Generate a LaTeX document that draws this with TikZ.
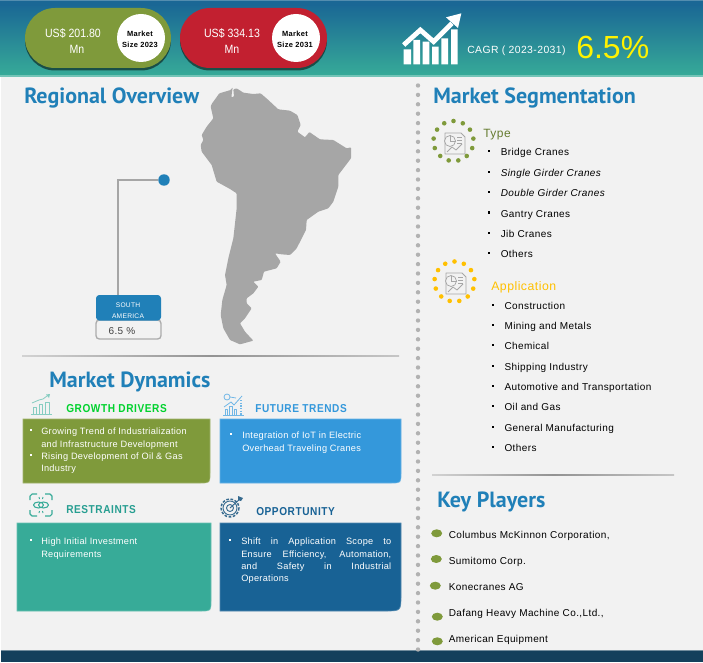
\documentclass[tikz,border=0pt]{standalone}
\usepackage{fontspec}
\setmainfont{Liberation Sans}
\newfontfamily\bodyf[LetterSpace=4]{Liberation Sans}
\newfontfamily\panf[LetterSpace=3]{Liberation Sans}
\newfontfamily\pillf[FakeStretch=.88]{Liberation Sans}
\newfontfamily\headf{PT Sans}
\newfontfamily\capf[LetterSpace=5,FakeStretch=.88]{Liberation Sans Bold}
\usetikzlibrary{calc}
\definecolor{bgc}{HTML}{F2F2F2}
\definecolor{bandtop}{HTML}{1A6795}
\definecolor{bandbot}{HTML}{37AB98}
\definecolor{oliveg}{HTML}{7F9A3B}
\definecolor{redp}{HTML}{C22030}
\definecolor{headb}{HTML}{2080B8}
\definecolor{mapg}{HTML}{A6A6A6}
\definecolor{skyb}{HTML}{3498DB}
\definecolor{deepb}{HTML}{186295}
\definecolor{footc}{HTML}{14405C}
\definecolor{amber}{HTML}{FFC000}
\tikzset{
  lbl/.style={inner sep=0pt,anchor=west,text depth=0pt,text height=5.4pt},
  ctr/.style={inner sep=0pt,anchor=center,text depth=0pt,text height=5.4pt,align=center},
  body/.style={lbl,font=\bodyf\fontsize{7.5}{9}\selectfont},
  blk/.style={body,text=black,yshift=-.7pt},
  wht/.style={lbl,font=\panf\fontsize{6.9}{9}\selectfont,text=white,yshift=-.4pt},
  head/.style={lbl,font=\headf\bfseries\fontsize{16.5}{18}\selectfont,text=headb},
  capt/.style={lbl,font=\capf\fontsize{8.6}{10}\selectfont,yshift=-.6pt},
  pillt/.style={ctr,font=\pillf\fontsize{9}{11}\selectfont,text=white},
  pillk/.style={ctr,font=\bodyf\bfseries\fontsize{5.6}{7}\selectfont,text=black},
  ico/.style={draw=#1,line width=.6pt,line join=round,fill=none},
}
\newcommand\sepbar[3]{\shade[left color=gray!35,right color=gray!45,middle color=gray!85] (#1,#3-.7) rectangle (#2,#3+.7);}
\newcommand\panelbox[6]{\path[fill=#6,draw=#6!75!white,line width=.5pt] (#1,#2) -- (#3,#2) -- (#3,#4-#5) .. controls (#3,#4) .. (#3-#5,#4) -- (#1,#4) -- cycle;}
\newcommand\docicon[1]{\begin{scope}[shift={#1},line width=.55pt,draw=gray!70,line join=round]
  \draw (-8,-8) -- (8,-8) -- (12,-4) -- (12,13) -- (-8,13) -- cycle;
  \draw[fill=bgc] (-3,0) circle (5.5);
  \draw (-3,0) -- (-3,-5.5) (-3,0) -- (2.5,0);
  \draw (4,-4) -- (9,-4) (4,-1) -- (9,-1) (4,2) -- (9,2);
  \draw (-6,11) -- (-1,6) -- (3,9) -- (9,3);
\end{scope}}
\begin{document}
\begin{tikzpicture}[x=.75pt,y=-.75pt]
\useasboundingbox (0,0) rectangle (703,663);
\fill[white] (0,0) rectangle (703,663);
\fill[bgc] (1,76) rectangle (703,651);
% top band
\shade[top color=bandtop,bottom color=bandbot] (0,4) rectangle (703,76);
\fill[bandtop] (0,0) rectangle (703,6);
\fill[bandtop!75!white] (0,0) rectangle (703,1);
\fill[bandbot!70!white] (0,75.5) rectangle (703,77);
% footer
\fill[footc] (1,651) rectangle (703,662);
\fill[footc!60!white] (1,650) rectangle (703,651);
% pills
\fill[black!70!bandbot,opacity=.75] (55,10.5) arc[start angle=-90,end angle=-270,radius=30] -- (141,70.5) arc[start angle=90,end angle=-90,radius=30] -- cycle;
\fill[oliveg] (55,8) arc[start angle=-90,end angle=-270,radius=30] -- (141,68) arc[start angle=90,end angle=-90,radius=30] -- cycle;
\node[circle,fill=white,inner sep=0pt,minimum size=36pt] (c1) at (141,38) {};
\node[pillt] (p1a) at (73,34) {US\$ 201.80};
\node[pillt] (p1b) at (77,50) {Mn};
\node[pillk] (k1a) at (140,33) {Market};
\node[pillk] (k1b) at (140,44) {Size 2023};
\fill[black!70!bandbot,opacity=.75] (210,10.5) arc[start angle=-90,end angle=-270,radius=30] -- (297,70.5) arc[start angle=90,end angle=-90,radius=30] -- cycle;
\fill[redp] (210,8) arc[start angle=-90,end angle=-270,radius=30] -- (297,68) arc[start angle=90,end angle=-90,radius=30] -- cycle;
\node[circle,fill=white,inner sep=0pt,minimum size=36pt] (c2) at (296,38) {};
\node[pillt] (p2a) at (232,34) {US\$ 334.13};
\node[pillt] (p2b) at (232,50) {Mn};
\node[pillk] (k2a) at (295,33) {Market};
\node[pillk] (k2b) at (295,44) {Size 2031};
% growth icon
\begin{scope}[shift={(352,0)},x=.25pt,y=-.25pt]
  \fill[white] (155,148) rectangle (177,193) (184,120) rectangle (204,193) (212,125) rectangle (232,193)
    (240,140) rectangle (260,193) (268,115) rectangle (288,193) (297,88) rectangle (317,193);
  \draw[white,line width=3.6pt,line join=miter] (155,135) -- (205,90) -- (245,125) -- (300,70);
  \fill[white] (328,40) -- (282,52) -- (318,84) -- cycle;
\end{scope}
\node[lbl,font=\bodyf\fontsize{7.8}{10}\selectfont,text=white] (cagr) at (467,50) {CAGR ( 2023-2031)};
\node[lbl,font=\fontsize{24}{28}\selectfont,text=yellow] (cagrv) at (576,55.4) {6.5\%};
% headings
\node[head] (hreg) at (24,100.4) {Regional Overview};
\node[head] (hseg) at (433,100.4) {Market Segmentation};
\node[head] (hdyn) at (49,383.4) {Market Dynamics};
\node[head] (hkey) at (437,503.4) {Key Players};
% map
\begin{scope}[shift={(90,85)},x=.25pt,y=-.25pt]
\fill[mapg,rounded corners=.6pt] (365,57) -- (388,25) -- (422,15) -- (428,7) -- (424,37) -- (432,35) -- (430,13) -- (440,10) -- (460,23) -- (490,27) -- (512,25) -- (535,45) -- (565,73) -- (600,77) -- (622,90) -- (632,120) -- (622,140) -- (645,157) -- (658,141) -- (690,163) -- (730,165) -- (770,190) -- (783,187) -- (783,220) -- (745,270) -- (745,305) -- (730,350) -- (715,370) -- (685,380) -- (650,405) -- (648,435) -- (620,490) -- (600,510) -- (575,508) -- (555,505) -- (572,530) -- (560,550) -- (522,560) -- (515,585) -- (490,590) -- (505,605) -- (490,625) -- (470,640) -- (470,655) -- (485,670) -- (465,700) -- (450,715) -- (465,740) -- (490,767) -- (450,778) -- (420,765) -- (400,730) -- (392,690) -- (397,645) -- (410,600) -- (405,570) -- (415,520) -- (430,460) -- (440,370) -- (440,325) -- (420,312) -- (380,290) -- (365,240) -- (335,200) -- (332,180) -- (340,165) -- (335,150) -- (350,125) -- (370,100) -- (362,65) -- cycle;
\end{scope}
% south america callout
\draw[gray!65,line width=1pt,rounded corners=2.5pt] (96,320) rectangle (161,339);
\path[fill=headb,rounded corners=2.5pt] (96,295) rectangle (161,320.5);
\node[circle,fill=headb,inner sep=0pt,minimum size=8.6pt] (sadot) at (164,180) {};
\coordinate (lead) at (118,295);
\draw[gray!70,line width=1pt] (sadot.west) -| (lead);
\node[ctr,font=\bodyf\fontsize{5}{7}\selectfont,text=white] (sa1) at (128,303.5) {SOUTH};
\node[ctr,font=\bodyf\fontsize{5}{7}\selectfont,text=white] (sa2) at (128,314.5) {AMERICA};
\node[ctr,font=\bodyf\fontsize{7.5}{9}\selectfont,text=black!75] (sa3) at (122,330.5) {6.5 \%};
% separators + dots
\sepbar{22}{399}{356}
\sepbar{432}{674}{475}
\draw[gray!60,line width=3.3pt,line cap=round,dash pattern=on 0pt off 7.05pt] (418,85.5) -- (418,652);
% dynamics panels
\panelbox{23}{419}{210}{483}{10}{oliveg}
\panelbox{220}{419}{401}{483}{10}{skyb}
\panelbox{17}{523}{211}{611}{10}{bandbot}
\panelbox{220}{523}{401}{611}{16}{deepb}
\node[capt,text=green!65!teal] (cg) at (66,408) {GROWTH DRIVERS};
\node[capt,text=skyb] (cf) at (255,408.5) {FUTURE TRENDS};
\node[capt,text=bandbot!70!teal] (cr) at (66,509) {RESTRAINTS};
\node[capt,text=deepb] (co) at (256,511) {OPPORTUNITY};
% panel texts
\foreach \x/\y in {31/430,31/455,231/434,31/540,230/540}
  \fill[white] (\x-1,\y-1) rectangle (\x+1,\y+1);
\node[wht] (g1) at (41,430) {Growing Trend of Industrialization};
\node[wht] (g2) at (41,443) {and Infrastructure Development};
\node[wht] (g3) at (41,455) {Rising Development of Oil \& Gas};
\node[wht] (g4) at (41,467) {Industry};
\node[wht] (f1) at (242,434.5) {Integration of IoT in Electric};
\node[wht] (f2) at (242,447.5) {Overhead Traveling Cranes};
\node[wht] (r1) at (41,540) {High Initial Investment};
\node[wht] (r2) at (41,553) {Requirements};
\node[wht] (o1) at (241,540) {\makebox[112.5pt][s]{Shift in Application Scope to}};
\node[wht] (o2) at (241,553) {\makebox[112.5pt][s]{Ensure Efficiency, Automation,}};
\node[wht] (o3) at (241,565) {\makebox[112.5pt][s]{and Safety in Industrial}};
\node[wht] (o4) at (241,577) {Operations};
% segmentation
\foreach \ang in {0,...,12}
  \fill[oliveg] ($(453.5,141)+(-90+\ang*27.7:20)$) circle (2.3);
\foreach \ang in {0,...,12}
  \fill[amber] ($(454.5,281.5)+(-90+\ang*27.7:20)$) circle (2.3);
\docicon{(453,141)}
\docicon{(454,281)}
\node[lbl,font=\bodyf\fontsize{9}{11}\selectfont,text=oliveg!80!black] (ttype) at (483,133.5) {Type};
\node[lbl,font=\bodyf\fontsize{9.2}{11}\selectfont,text=amber] (tapp) at (491,286.5) {Application};
\foreach \i/\y/\t in {1/151/{Bridge Cranes},2/172/{\itshape Single Girder Cranes},3/192/{\itshape Double Girder Cranes},4/212.5/{Gantry Cranes},5/233/{Jib Cranes},6/253/{Others}}{
  \fill[black] (487.7,\y-1.2) rectangle (490.2,\y+1.2);
  \node[blk] (ty\i) at (500.5,\y) {\t};
}
\foreach \i/\y/\t in {1/305/{Construction},2/325/{Mining and Metals},3/345/{Chemical},4/366/{Shipping Industry},5/386/{Automotive and Transportation},6/406/{Oil and Gas},7/427/{General Manufacturing},8/447/{Others}}{
  \fill[black] (491.5,\y-1.2) rectangle (494,\y+1.2);
  \node[blk] (ap\i) at (504.3,\y) {\t};
}
% key players
\foreach \i/\ex/\ey/\ty/\t in {1/436.7/533.3/534/{Columbus McKinnon Corporation,},2/436.3/559/560/{Sumitomo Corp.},3/435.3/585.7/586/{Konecranes AG},4/437.3/616.7/612.3/{Dafang Heavy Machine Co.,Ltd.,},5/437.3/641.3/638.3/{American Equipment}}{
  \fill[oliveg] (\ex,\ey) ellipse (5.5 and 4);
  \node[blk] (kp\i) at (448.5,\ty) {\t};
}
% small icons
\begin{scope}[shift={(31,394)}]
  \draw[ico=bandbot!60!white] (0,20) -- (21,20) (2,20) -- (2,13) -- (5,13) -- (5,20) (8,20) -- (8,10) -- (11,10) -- (11,20) (14,20) -- (14,8) -- (18,8) -- (18,20);
  \draw[ico=bandbot!60!white] (1,9) -- (8,6) -- (12,5) -- (16,2);
  \fill[bandbot!60!white] (19,0) -- (15,.5) -- (18,4) -- cycle;
\end{scope}
\begin{scope}[shift={(223,394)}]
  \draw[ico=skyb!70!white] (0,21) -- (21,21) (2,21) -- (2,15) -- (4,15) -- (4,21) (6.5,21) -- (6.5,12) -- (9,12) -- (9,21) (11,21) -- (11,15) -- (13,15) -- (13,21);
  \draw[ico=skyb!70!white] (4,3) circle (3) (7,3) -- (13,4) (1,13) -- (8,8) -- (11,11) -- (19,2);
  \draw[skyb!70!white,line width=1.2pt,dash pattern=on 1pt off 1pt] (18,6) -- (18,21);
\end{scope}
\begin{scope}[shift={(30,494)},draw=bandbot]
  \draw[ico=bandbot,line width=.8pt] (0,6) -- (0,2) -- (2,0) -- (7,0) (15,0) -- (20,0) -- (22,2) -- (22,6) (22,16) -- (22,20) -- (20,22) -- (15,22) (7,22) -- (2,22) -- (0,20) -- (0,16);
  \draw[ico=bandbot,line width=.8pt] (8.5,11) ellipse (5 and 3) (13.5,11) ellipse (5 and 3);
  \draw[ico=bandbot,line width=.7pt] (9,3) -- (9.5,5) (13,3) -- (12.5,5) (9,19) -- (9.5,17) (13,19) -- (12.5,17);
\end{scope}
\begin{scope}[shift={(230,508)}]
  \draw[ico=deepb!70!gray,line width=1.1pt,dash pattern=on 2pt off 1.2pt] (0,0) circle (9);
  \draw[ico=deepb!70!gray,line width=.7pt] (0,0) circle (7) (0,0) circle (3.5) (0,0) -- (10,-9);
  \fill[deepb!70!gray] (8,-12) -- (13,-10) -- (11,-7) -- (8,-8) -- cycle;
\end{scope}
\end{tikzpicture}
\end{document}
